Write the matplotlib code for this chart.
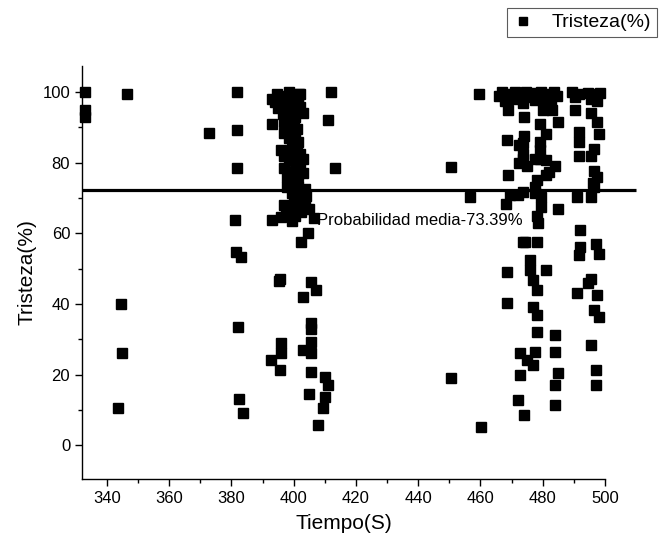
import matplotlib
matplotlib.use("Agg")
import matplotlib.pyplot as plt
from matplotlib.ticker import MultipleLocator

plt.rcParams['font.family'] = ['Liberation Sans', 'DejaVu Sans']

# ---- data ----
tiempo = [
    333, 333, 333, 346.5, 372.8, 344.4, 344.9, 343.6,
    381.8, 381.8, 381.8, 381.1, 381.4, 383.2, 382, 382.5, 383.7,
    412, 410.9, 413.3, 401.8,
    393, 394.5, 395.5, 396.5, 397.5, 398.5, 399, 400, 402, 401.5, 394,
    395, 396.5, 398, 399.5, 400.5, 402, 403, 397.5,
    392.9, 397, 398, 400, 401,
    397, 398.5, 399.5, 400.5, 401.5, 399,
    396, 397, 398.5, 399.5, 400.5, 402, 403, 401,
    397, 398, 399.5, 400.5, 402, 403, 401.5,
    398, 399.5, 400.5, 401.5, 402.5, 403.5, 404,
    397, 398.5, 400, 401.5, 402.5, 403.5, 405,
    392.9, 396, 397.5, 399.5, 400.5, 406.6,
    404.5, 402.3,
    395.7, 395.3, 405.5, 407.1, 402.9, 405.5, 405.5, 395.9, 395.9, 392.7,
    395.7, 402.9, 405.5, 405.5, 405.5, 409.9, 410.9, 405, 409.9, 409.3, 407.7,
    450.6, 456.5, 450.6, 459.5, 460.1,
    466, 467, 468, 469.5, 470.5, 471, 472.5, 473.5, 474.5, 475.5, 476.5, 477.5,
    478.5, 479.5, 480.5, 481.5, 482.5, 483.5, 484.5, 489.5, 490.5, 491.5,
    494.5, 495.5, 496.5, 497.5, 498.5,
    468.9, 468.5, 468.9, 468.1, 469.4, 472.1, 474.3, 468.5, 468.5,
    472.6, 472.6, 472.1, 473.9,
    472.5, 473.5, 472.5, 474,
    474, 480, 483, 485, 490.5, 495.6, 479, 481, 497.5, 498, 491.5, 491.5,
    473.7, 479, 479, 473.7, 479, 491.5, 496.5, 495.6, 475, 477.5, 481, 484,
    482, 481, 478, 477.5, 496.5, 497.5, 496, 496.5, 495.6, 491, 473.7, 477.5,
    479.5, 479.5, 478, 478.5, 485, 492, 473.7, 478, 492, 491.5, 497, 498,
    476, 476, 481, 495.5, 491, 497.5, 494.5, 477, 478, 477, 478, 496.5, 498,
    478, 484, 477.5, 484, 474.8, 477, 495.5, 497, 485, 484, 497, 484,
]
tristeza = [
    99.9, 95, 93, 99.6, 88.3, 40.1, 26, 10.6,
    99.9, 89.4, 78.4, 63.7, 54.8, 53.3, 33.5, 13.2, 9.2,
    99.9, 92, 78.4, 99.6,
    98, 99.5, 97.5, 99, 98.5, 100, 97, 98.5, 99.6, 98, 97.2,
    95.5, 93.8, 95, 94.5, 93, 95.8, 94, 96.5,
    91.1, 91.5, 90, 91, 89.5,
    88.5, 87, 85.5, 88, 86, 89,
    83.5, 82, 81, 83, 80.5, 82.5, 81, 84,
    78.5, 76, 77.5, 75.5, 79, 77, 76.5,
    73, 71.5, 70, 73.5, 71, 72.5, 70.5,
    68, 66.5, 69, 67.5, 66, 68.5, 67,
    63.7, 64.5, 65.5, 63.5, 65, 64.2,
    60, 57.6,
    47.2, 46.5, 46.3, 43.9, 42, 34.5, 33, 28.8, 26, 24.1,
    21.2, 26.9, 29.3, 26, 20.8, 19.3, 17, 14.6, 13.7, 10.4, 5.7,
    78.8, 70.3, 19, 99.6, 5.2,
    99, 100, 97.5, 99.5, 98, 100, 99, 97, 100, 98.5, 99.8, 97.8,
    99.2, 100, 98, 99.5, 97.5, 100, 99, 100, 98.5, 99.5,
    99.8, 98, 99.5, 97.5, 99.8,
    95, 86.4, 76.5, 68.2, 70.8, 70.8, 57.6, 49.1, 40.3,
    26, 19.8, 12.7, 8.5,
    85, 82.5, 80, 87.5,
    93, 95, 95, 91.6, 95, 94, 91, 88, 91.6, 88, 88.6, 86,
    85.5, 86, 83.5, 81, 81, 82, 84, 82, 79, 81, 80.7, 79,
    77.5, 76.5, 75, 73, 77.6, 76, 74.3, 73, 70.3, 70.3, 71.8, 71.3,
    70.3, 67.5, 65, 62.8, 67, 61, 57.5, 57.5, 56, 53.8, 57.1, 54,
    52.4, 49.6, 49.6, 47.2, 43, 42.5, 45.8, 46.7, 43.9, 39.2, 36.8, 38.2, 36.3,
    32.1, 31.2, 26.4, 26.4, 24.1, 22.7, 28.3, 21.4, 20.3, 17, 17, 11.3,
]

media_valor = 72.2
media_x = [332, 510]
media_texto = "Probabilidad media-73.39%"
serie = "Tristeza(%)"
x_label = "Tiempo(S)"
y_label = "Tristeza(%)"

# ---- figure ----
fig = plt.figure(figsize=(6.6, 5.48), dpi=100)
ax = fig.add_axes([82/660, 1 - 479/548, (605 - 82)/660, (479 - 66)/548])

ax.plot(tiempo, tristeza, linestyle='none', marker='s', markersize=7,
        color='black', label=serie, clip_on=False)
ax.plot(media_x, [media_valor, media_valor], color='black', lw=2.3,
        clip_on=False, solid_capstyle='butt')
ax.text(407.6, 63.7, media_texto, fontsize=12, va='center', ha='left')

ax.set_xlim(332, 500)
ax.set_ylim(-9.6, 107.4)
ax.xaxis.set_major_locator(MultipleLocator(20))
ax.xaxis.set_minor_locator(MultipleLocator(10))
ax.yaxis.set_major_locator(MultipleLocator(20))
ax.yaxis.set_minor_locator(MultipleLocator(10))
ax.tick_params(which='major', direction='out', length=5, width=1, labelsize=12)
ax.tick_params(which='minor', direction='out', length=3, width=1)
for s in ['top', 'right']:
    ax.spines[s].set_visible(False)
for s in ['left', 'bottom']:
    ax.spines[s].set_linewidth(1)

ax.set_xlabel(x_label, fontsize=15, labelpad=6)
ax.set_ylabel(y_label, fontsize=15, labelpad=4)

leg = fig.legend(loc='upper right', bbox_to_anchor=(657/660, 1 - 8/548),
                 borderaxespad=0, fontsize=14, frameon=True, fancybox=False,
                 markerscale=0.75, handlelength=1.0, handletextpad=1.0,
                 borderpad=0.3)
leg.get_frame().set_edgecolor('#333333')
leg.get_frame().set_linewidth(0.8)

fig.savefig("out.png", dpi=100)
